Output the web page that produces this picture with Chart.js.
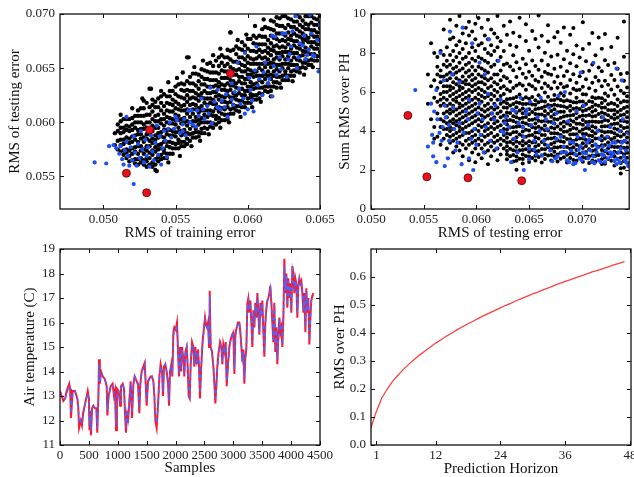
<!DOCTYPE html>
<html>
<head>
<meta charset="utf-8">
<script src="https://cdn.jsdelivr.net/npm/chart.js@4.4.1/dist/chart.umd.min.js"></script>
<style>
  html, body { margin: 0; background: #fff; }
  body { width: 634px; height: 477px; position: relative; overflow: hidden; }
  canvas { position: absolute; }
</style>
</head>
<body>
<canvas id="c1" width="340" height="245" style="left:0;top:0"></canvas>
<canvas id="c2" width="319" height="245" style="left:315px;top:0"></canvas>
<canvas id="c3" width="340" height="242" style="left:0;top:235px"></canvas>
<canvas id="c4" width="319" height="242" style="left:315px;top:235px"></canvas>
<script>
/* global Chart */
// ---- panel 1: training error vs testing error (columns: [train, [test...]]) ----
const trainTestBlack = [
  [0.0508,[0.0579,0.0590]],
  [0.0510,[0.0575,0.0583,0.0592,0.0598]],
  [0.0512,[0.0573,0.0579,0.0584,0.0590,0.0595,0.0601]],
  [0.0514,[0.0570,0.0574,0.0580,0.0584,0.0591,0.0595,0.0603]],
  [0.0516,[0.0567,0.0572,0.0575,0.0582,0.0586,0.0593,0.0597,0.0603]],
  [0.0518,[0.0564,0.0569,0.0574,0.0581,0.0585,0.0592,0.0596,0.0603]],
  [0.0520,[0.0565,0.0571,0.0576,0.0582,0.0587,0.0593,0.0598,0.0604]],
  [0.0522,[0.0562,0.0566,0.0573,0.0577,0.0584,0.0588,0.0595,0.0600,0.0606]],
  [0.0524,[0.0561,0.0566,0.0571,0.0578,0.0582,0.0589,0.0593,0.0600,0.0606,0.0611]],
  [0.0526,[0.0563,0.0567,0.0574,0.0578,0.0585,0.0589,0.0594,0.0600,0.0606,0.0613]],
  [0.0528,[0.0561,0.0565,0.0571,0.0575,0.0582,0.0586,0.0594,0.0598,0.0606,0.0613,0.0620]],
  [0.0530,[0.0559,0.0564,0.0567,0.0574,0.0578,0.0585,0.0589,0.0595,0.0600,0.0607,0.0618]],
  [0.0532,[0.0561,0.0567,0.0572,0.0578,0.0583,0.0589,0.0594,0.0600,0.0607,0.0614,0.0631]],
  [0.0534,[0.0559,0.0563,0.0570,0.0574,0.0581,0.0585,0.0592,0.0597,0.0603,0.0610,0.0616,0.0621]],
  [0.0536,[0.0556,0.0561,0.0566,0.0573,0.0577,0.0584,0.0588,0.0595,0.0601,0.0606,0.0614,0.0619]],
  [0.0538,[0.0564,0.0568,0.0575,0.0579,0.0586,0.0590,0.0595,0.0601,0.0607,0.0614,0.0622]],
  [0.0540,[0.0566,0.0570,0.0576,0.0580,0.0587,0.0591,0.0599,0.0603,0.0611,0.0618,0.0624]],
  [0.0542,[0.0567,0.0572,0.0575,0.0582,0.0586,0.0593,0.0597,0.0603,0.0608,0.0615,0.0626]],
  [0.0544,[0.0567,0.0571,0.0578,0.0582,0.0589,0.0593,0.0600,0.0605,0.0611,0.0618,0.0624]],
  [0.0546,[0.0571,0.0577,0.0582,0.0588,0.0593,0.0599,0.0604,0.0610,0.0617,0.0624,0.0629]],
  [0.0548,[0.0571,0.0576,0.0581,0.0588,0.0592,0.0599,0.0603,0.0610,0.0616,0.0621,0.0629]],
  [0.0550,[0.0576,0.0580,0.0587,0.0591,0.0598,0.0602,0.0607,0.0613,0.0619,0.0626,0.0633]],
  [0.0552,[0.0576,0.0581,0.0584,0.0591,0.0595,0.0602,0.0606,0.0612,0.0617,0.0624,0.0635]],
  [0.0554,[0.0578,0.0582,0.0588,0.0592,0.0599,0.0603,0.0611,0.0615,0.0623,0.0630,0.0636]],
  [0.0556,[0.0578,0.0582,0.0589,0.0593,0.0600,0.0604,0.0611,0.0616,0.0622,0.0629,0.0635]],
  [0.0558,[0.0580,0.0585,0.0590,0.0597,0.0601,0.0608,0.0612,0.0619,0.0625,0.0630,0.0638,0.0660]],
  [0.0560,[0.0583,0.0589,0.0594,0.0600,0.0605,0.0611,0.0616,0.0622,0.0629,0.0636,0.0642]],
  [0.0562,[0.0586,0.0590,0.0597,0.0601,0.0608,0.0612,0.0617,0.0623,0.0629,0.0636,0.0645]],
  [0.0564,[0.0586,0.0591,0.0594,0.0601,0.0605,0.0612,0.0616,0.0622,0.0627,0.0634,0.0645]],
  [0.0566,[0.0587,0.0591,0.0598,0.0602,0.0609,0.0613,0.0620,0.0625,0.0631,0.0638,0.0644]],
  [0.0568,[0.0590,0.0594,0.0600,0.0604,0.0611,0.0615,0.0623,0.0627,0.0635,0.0642,0.0649]],
  [0.0570,[0.0590,0.0595,0.0600,0.0607,0.0611,0.0618,0.0622,0.0629,0.0635,0.0640,0.0648]],
  [0.0572,[0.0594,0.0600,0.0605,0.0611,0.0616,0.0622,0.0627,0.0633,0.0640,0.0647,0.0654]],
  [0.0574,[0.0596,0.0600,0.0607,0.0611,0.0618,0.0622,0.0627,0.0633,0.0639,0.0646,0.0655]],
  [0.0576,[0.0595,0.0599,0.0606,0.0610,0.0617,0.0621,0.0628,0.0633,0.0639,0.0646,0.0652]],
  [0.0578,[0.0598,0.0603,0.0606,0.0613,0.0617,0.0624,0.0628,0.0634,0.0639,0.0646,0.0657]],
  [0.0580,[0.0600,0.0604,0.0610,0.0614,0.0621,0.0625,0.0633,0.0637,0.0645,0.0652,0.0660]],
  [0.0582,[0.0602,0.0608,0.0613,0.0619,0.0624,0.0630,0.0635,0.0641,0.0648,0.0655,0.0662]],
  [0.0584,[0.0602,0.0607,0.0612,0.0619,0.0623,0.0630,0.0634,0.0641,0.0647,0.0652,0.0660]],
  [0.0586,[0.0603,0.0607,0.0614,0.0618,0.0625,0.0629,0.0636,0.0641,0.0647,0.0654,0.0660,0.0667]],
  [0.0588,[0.0608,0.0612,0.0619,0.0623,0.0630,0.0634,0.0639,0.0645,0.0651,0.0658,0.0666,0.0683]],
  [0.0590,[0.0608,0.0613,0.0616,0.0623,0.0627,0.0634,0.0638,0.0644,0.0649,0.0656,0.0667]],
  [0.0592,[0.0611,0.0615,0.0621,0.0625,0.0632,0.0636,0.0644,0.0648,0.0656,0.0663,0.0670]],
  [0.0594,[0.0610,0.0615,0.0620,0.0627,0.0631,0.0638,0.0642,0.0649,0.0655,0.0660,0.0668]],
  [0.0596,[0.0614,0.0620,0.0625,0.0631,0.0636,0.0642,0.0647,0.0653,0.0660,0.0667,0.0674]],
  [0.0598,[0.0614,0.0618,0.0625,0.0629,0.0636,0.0640,0.0647,0.0652,0.0658,0.0665,0.0671]],
  [0.0600,[0.0618,0.0622,0.0629,0.0633,0.0640,0.0644,0.0649,0.0655,0.0661,0.0668,0.0677]],
  [0.0602,[0.0618,0.0623,0.0626,0.0633,0.0637,0.0644,0.0648,0.0654,0.0659,0.0666,0.0677]],
  [0.0604,[0.0621,0.0625,0.0631,0.0635,0.0642,0.0646,0.0654,0.0658,0.0666,0.0673,0.0680]],
  [0.0606,[0.0621,0.0625,0.0632,0.0636,0.0643,0.0647,0.0654,0.0659,0.0665,0.0672,0.0678]],
  [0.0608,[0.0622,0.0627,0.0632,0.0639,0.0643,0.0650,0.0654,0.0661,0.0667,0.0672,0.0680]],
  [0.0610,[0.0626,0.0632,0.0637,0.0643,0.0648,0.0654,0.0659,0.0665,0.0672,0.0679,0.0686]],
  [0.0612,[0.0629,0.0633,0.0640,0.0644,0.0651,0.0655,0.0660,0.0666,0.0672,0.0679,0.0688]],
  [0.0614,[0.0628,0.0633,0.0636,0.0643,0.0647,0.0654,0.0658,0.0664,0.0669,0.0676,0.0687]],
  [0.0616,[0.0629,0.0633,0.0640,0.0644,0.0651,0.0655,0.0662,0.0667,0.0673,0.0680,0.0686,0.0694]],
  [0.0618,[0.0633,0.0637,0.0643,0.0647,0.0654,0.0658,0.0666,0.0670,0.0678,0.0685,0.0693]],
  [0.0620,[0.0632,0.0637,0.0642,0.0649,0.0653,0.0660,0.0664,0.0671,0.0677,0.0682,0.0690,0.0697]],
  [0.0622,[0.0636,0.0642,0.0647,0.0653,0.0658,0.0664,0.0669,0.0675,0.0682,0.0689,0.0696]],
  [0.0624,[0.0639,0.0643,0.0650,0.0654,0.0661,0.0665,0.0670,0.0676,0.0682,0.0689,0.0698]],
  [0.0626,[0.0639,0.0644,0.0647,0.0654,0.0658,0.0665,0.0669,0.0675,0.0680,0.0687,0.0698]],
  [0.0628,[0.0639,0.0643,0.0650,0.0654,0.0661,0.0665,0.0672,0.0677,0.0683,0.0690,0.0696]],
  [0.0630,[0.0643,0.0647,0.0653,0.0657,0.0664,0.0668,0.0676,0.0680,0.0688,0.0695]],
  [0.0632,[0.0643,0.0648,0.0653,0.0660,0.0664,0.0671,0.0675,0.0682,0.0688,0.0693]],
  [0.0634,[0.0647,0.0653,0.0658,0.0664,0.0669,0.0675,0.0680,0.0686,0.0693,0.0700]],
  [0.0636,[0.0646,0.0650,0.0657,0.0661,0.0668,0.0672,0.0679,0.0684,0.0690,0.0697]],
  [0.0638,[0.0651,0.0655,0.0662,0.0666,0.0673,0.0677,0.0682,0.0688,0.0694]],
  [0.0640,[0.0650,0.0655,0.0658,0.0665,0.0669,0.0676,0.0680,0.0686,0.0691,0.0698]],
  [0.0642,[0.0653,0.0657,0.0663,0.0667,0.0674,0.0678,0.0686,0.0690,0.0698]],
  [0.0644,[0.0653,0.0658,0.0663,0.0670,0.0674,0.0681,0.0685,0.0692,0.0698]],
  [0.0646,[0.0657,0.0663,0.0668,0.0674,0.0679,0.0685,0.0690,0.0696]],
  [0.0648,[0.0657,0.0661,0.0668,0.0672,0.0679,0.0683,0.0690,0.0695]],
  [0.0650,[0.0661,0.0665,0.0672,0.0676,0.0683,0.0687,0.0692,0.0698]]
];
// scattered black runs lying outside the dense band
const trainTestBlackLoose = [
  [0.0512,0.0607],[0.0520,0.0613],[0.0527,0.0622],[0.0533,0.0631],[0.0540,0.0629],[0.0545,0.0637],
  [0.0551,0.0641],[0.0555,0.0646],[0.0559,0.0660],[0.0563,0.0651],[0.0569,0.0657],[0.0576,0.0662],
  [0.0581,0.0668],[0.0588,0.0683],[0.0593,0.0676],[0.0599,0.0681],[0.0605,0.0689],[0.0611,0.0695],
  [0.0537,0.0555],[0.0545,0.0563],[0.0553,0.0569],[0.0561,0.0578],[0.0567,0.0583],[0.0573,0.0589],
  [0.0581,0.0595],[0.0587,0.0600],[0.0595,0.0605],[0.0603,0.0614],[0.0609,0.0619],[0.0616,0.0624],
  [0.0623,0.0632],[0.0631,0.0638],[0.0639,0.0644],[0.0645,0.0651]
];
const trainTestBlue = [
  [0.0494,0.0563],[0.0502,0.0562],[0.0504,0.0578],[0.0507,0.0579],[0.0509,0.0576],[0.0511,0.0571],
  [0.0512,0.0578],[0.0513,0.0566],[0.0514,0.0561],[0.0515,0.0574],[0.0516,0.0605],[0.0516,0.0582],
  [0.0517,0.0569],[0.0518,0.0560],[0.0519,0.0577],[0.0520,0.0565],[0.0521,0.0543],[0.0521,0.0587],
  [0.0522,0.0572],[0.0523,0.0560],[0.0524,0.0580],[0.0525,0.0567],[0.0526,0.0592],[0.0527,0.0575],
  [0.0528,0.0563],[0.0529,0.0584],[0.0530,0.0569],[0.0531,0.0577],[0.0532,0.0559],[0.0533,0.0588],
  [0.0534,0.0573],[0.0535,0.0565],[0.0536,0.0581],[0.0537,0.0597],[0.0538,0.0570],[0.0539,0.0587],
  [0.0540,0.0561],[0.0541,0.0576],[0.0542,0.0592],[0.0543,0.0583],[0.0544,0.0568],[0.0545,0.0594],
  [0.0546,0.0600],[0.0547,0.0586],[0.0549,0.0594],[0.0550,0.0605],[0.0551,0.0602],[0.0553,0.0590],
  [0.0555,0.0598],[0.0556,0.0603],[0.0557,0.0588],[0.0559,0.0611],[0.0561,0.0611],[0.0562,0.0598],
  [0.0565,0.0611],[0.0566,0.0606],[0.0568,0.0622],[0.0570,0.0603],[0.0572,0.0615],[0.0574,0.0632],
  [0.0575,0.0599],[0.0579,0.0630],[0.0579,0.0614],[0.0582,0.0620],[0.0584,0.0614],[0.0586,0.0605],
  [0.0589,0.0621],[0.0589,0.0636],[0.0591,0.0628],[0.0593,0.0655],[0.0595,0.0617],[0.0598,0.0608],
  [0.0598,0.0664],[0.0600,0.0612],[0.0602,0.0630],[0.0604,0.0610],[0.0605,0.0648],[0.0606,0.0670],
  [0.0608,0.0640],[0.0610,0.0625],[0.0612,0.0655],[0.0614,0.0636],[0.0617,0.0624],[0.0617,0.0680],
  [0.0619,0.0679],[0.0620,0.0644],[0.0622,0.0660],[0.0624,0.0682],[0.0626,0.0682],[0.0627,0.0642],
  [0.0628,0.0658],[0.0630,0.0670],[0.0631,0.0684],[0.0633,0.0698],[0.0634,0.0650],[0.0636,0.0673],
  [0.0638,0.0671],[0.0640,0.0658],[0.0641,0.0662],[0.0643,0.0699],[0.0644,0.0682],[0.0645,0.0662],
  [0.0646,0.0661],[0.0648,0.0676],[0.0649,0.0647],[0.0650,0.0690],
  [0.0555,0.0592],[0.0560,0.0600],[0.0564,0.0596],[0.0569,0.0612],[0.0573,0.0608],[0.0577,0.0619],
  [0.0581,0.0612],[0.0585,0.0626],[0.0590,0.0616],[0.0594,0.0631],[0.0597,0.0622],[0.0601,0.0641],
  [0.0603,0.0620],[0.0607,0.0634],[0.0611,0.0646],[0.0615,0.0640],[0.0618,0.0652],[0.0623,0.0649],
  [0.0629,0.0663],[0.0635,0.0660],[0.0639,0.0680],[0.0642,0.0667]
];
const trainTestRed = [[0.0516,0.0553],[0.0530,0.0535],[0.0532,0.0593],[0.0588,0.0645]];
const trainTicks = [0.050, 0.055, 0.060, 0.065];
const testTicks1 = [0.055, 0.060, 0.065, 0.070];

// ---- panel 2: testing error vs sum RMS over PH (columns: [test, [sum...]]) ----
const testSumBlack = [
  [0.0554,[5.4,6.9]],
  [0.0557,[4.6,6.3,8.5]],
  [0.0560,[3.6,4.2,5.7,6.6,8.0]],
  [0.0563,[3.7,4.9,5.5,6.2,6.9,7.3,7.8]],
  [0.0566,[3.3,4.2,4.6,5.3,5.6,5.9,6.5,6.8,7.1,8.1]],
  [0.0569,[3.6,4.1,4.5,4.9,5.4,5.7,6.0,6.3,6.8,7.4,7.9,9.2]],
  [0.0572,[3.1,3.8,4.1,4.4,4.7,5.0,5.3,5.6,6.0,6.3,6.6,6.9,7.3,7.6,8.3]],
  [0.0575,[3.4,3.7,4.0,4.2,4.5,4.9,5.1,5.4,5.8,6.1,6.3,6.7,7.0,7.4,7.9,8.7,9.7]],
  [0.0578,[2.9,3.5,3.8,4.1,4.4,4.6,5.0,5.3,5.6,5.9,6.2,6.5,6.9,7.2,7.6,8.1,8.8]],
  [0.0581,[3.2,3.6,3.9,4.3,4.5,4.8,5.1,5.5,5.7,6.0,6.4,6.7,7.0,7.3,7.8,8.4,9.4]],
  [0.0584,[3.0,3.4,3.7,4.0,4.2,4.6,4.9,5.2,5.4,5.8,6.1,6.3,6.6,7.1,7.5,8.0,8.6,9.9]],
  [0.0587,[2.7,3.3,3.8,4.1,4.4,4.7,5.0,5.3,5.6,5.9,6.2,6.5,6.8,7.2,7.7,8.2,9.0]],
  [0.0590,[3.1,3.5,3.9,4.2,4.5,4.8,5.1,5.4,5.7,6.0,6.4,6.6,7.0,7.4,7.8,8.5,9.3]],
  [0.0593,[2.5,3.3,3.6,3.9,4.3,4.6,4.9,5.2,5.5,5.8,6.1,6.4,6.8,7.1,7.5,8.0,8.9,9.6]],
  [0.0596,[2.9,3.4,3.7,4.0,4.4,4.7,5.0,5.3,5.6,6.0,6.3,6.6,6.9,7.3,7.7,8.3,9.1]],
  [0.0599,[2.4,3.1,3.5,3.8,4.1,4.5,4.8,5.1,5.4,5.7,6.1,6.4,6.7,7.1,7.6,8.1,8.7,9.5]],
  [0.0602,[2.8,3.3,3.6,4.0,4.3,4.6,4.9,5.2,5.6,5.9,6.2,6.5,6.9,7.3,7.8,8.4,9.8]],
  [0.0605,[2.6,3.1,3.5,3.8,4.2,4.5,4.8,5.1,5.5,5.8,6.1,6.5,6.8,7.2,7.7,8.5,9.3]],
  [0.0608,[2.9,3.3,3.7,4.0,4.3,4.7,5.0,5.3,5.7,6.0,6.4,6.7,7.1,7.6,8.2,8.9]],
  [0.0611,[2.3,3.0,3.4,3.8,4.1,4.4,4.8,5.1,5.4,5.8,6.2,6.6,7.0,7.5,8.0,8.7,9.7]],
  [0.0614,[2.7,3.2,3.5,3.9,4.2,4.6,4.9,5.2,5.6,5.9,6.3,6.7,7.3,7.9,8.4,9.2]],
  [0.0617,[3.0,3.4,3.7,4.1,4.4,4.7,5.1,5.4,5.8,6.1,6.5,6.9,7.4,8.1,9.0]],
  [0.0620,[2.5,3.1,3.5,3.8,4.2,4.5,4.9,5.2,5.6,6.0,6.4,6.9,7.6,8.3,8.8,9.9]],
  [0.0623,[2.8,3.3,3.6,4.0,4.3,4.7,5.0,5.4,5.8,6.2,6.6,7.1,7.8,8.6]],
  [0.0626,[3.1,3.5,3.8,4.1,4.5,4.8,5.2,5.5,5.9,6.3,6.8,7.4,8.1,9.4]],
  [0.0629,[2.55,2.79,2.98,3.22,3.41,3.66,3.87,4.08,4.33,4.52,4.76,4.95,5.19,5.42,5.63,6.14,6.71,7.46,8.93]],
  [0.0632,[2.71,3.09,3.44,3.83,4.18,4.57,4.92,5.31,5.66,6.05,6.52,7.31,8.41,9.62]],
  [0.0635,[2.44,2.77,3.01,3.34,3.58,3.93,4.19,4.51,4.76,5.08,5.39,5.68,6.21,7.12,7.88,9.04]],
  [0.0638,[2.01,2.47,2.69,2.96,3.19,3.46,3.68,3.95,4.22,4.44,4.71,4.93,5.22,5.47,5.74,6.33,6.77,7.53,8.32]],
  [0.0641,[2.58,3.01,3.39,3.82,4.24,4.63,5.05,5.44,5.87,6.42,7.21,8.84,9.81]],
  [0.0644,[2.33,2.56,2.79,3.02,3.26,3.49,3.73,3.97,4.21,4.44,4.68,4.91,5.15,5.39,5.64,6.33,6.94,7.71]],
  [0.0647,[2.72,3.06,3.37,3.71,4.06,4.38,4.72,5.03,5.38,5.73,6.11,6.73,7.42,8.62,9.48]],
  [0.0650,[2.41,2.69,2.94,3.23,3.48,3.77,4.02,4.31,4.57,4.86,5.12,5.41,5.66,6.39,7.04,8.11]],
  [0.0653,[2.62,3.03,3.41,3.79,4.19,4.58,4.97,5.36,5.74,6.29,6.83,7.62,9.13]],
  [0.0656,[2.49,2.73,2.96,3.21,3.44,3.68,3.92,4.16,4.39,4.63,4.87,5.11,5.35,5.58,6.16,6.61,7.33,8.72]],
  [0.0659,[2.67,2.98,3.28,3.61,3.92,4.22,4.53,4.84,5.16,5.47,5.83,6.52,7.14,8.28,9.92]],
  [0.0662,[2.38,2.74,3.08,3.44,3.79,4.13,4.49,4.84,5.18,5.54,6.21,6.78,7.61,8.88]],
  [0.0665,[2.57,2.81,3.06,3.31,3.55,3.79,4.04,4.28,4.53,4.77,5.02,5.26,5.51,5.98,6.43,7.03,8.01]],
  [0.0668,[2.74,3.17,3.61,4.03,4.47,4.89,5.33,5.76,6.31,6.93,7.38,8.59,9.42]],
  [0.0671,[2.49,2.77,3.06,3.33,3.62,3.89,4.18,4.46,4.73,5.02,5.29,5.58,6.18,6.88,7.82]],
  [0.0674,[2.69,2.93,3.17,3.41,3.66,3.89,4.13,4.38,4.62,4.86,5.11,5.35,5.59,5.84,6.51,7.19,8.81]],
  [0.0677,[2.43,2.79,3.16,3.51,3.87,4.23,4.59,4.96,5.31,5.67,6.22,6.79,7.91,9.08]],
  [0.0680,[2.58,2.88,3.19,3.48,3.79,4.08,4.39,4.68,4.99,5.28,5.59,5.94,6.42,7.29,8.53]],
  [0.0683,[2.66,2.92,3.18,3.44,3.69,3.96,4.22,4.47,4.74,4.99,5.26,5.52,5.81,6.24,6.82,7.68,9.31]],
  [0.0686,[2.38,2.78,3.18,3.59,3.98,4.38,4.78,5.19,5.58,6.31,7.07,8.12]],
  [0.0689,[2.61,2.85,3.09,3.34,3.58,3.82,4.07,4.31,4.55,4.79,5.04,5.28,5.53,5.92,6.61,7.47,8.93]],
  [0.0692,[2.51,2.84,3.17,3.49,3.83,4.16,4.49,4.82,5.14,5.48,6.17,6.91,7.94,9.28]],
  [0.0695,[2.48,2.76,3.02,3.29,3.57,3.83,4.11,4.37,4.64,4.92,5.18,5.46,5.71,6.09,6.48,7.32,8.38]],
  [0.0698,[2.84,3.22,3.61,3.98,4.37,4.74,5.13,5.51,6.12,6.81,7.77]],
  [0.0701,[2.42,2.66,2.89,3.13,3.37,3.61,3.84,4.08,4.32,4.56,4.79,5.03,5.27,5.51,5.88,6.27,7.02,8.21,9.58]],
  [0.0704,[2.61,2.92,3.23,3.54,3.84,4.16,4.46,4.78,5.08,5.39,5.87,6.66,7.58]],
  [0.0707,[2.36,2.71,3.07,3.41,3.77,4.11,4.47,4.82,5.16,5.52,6.19,7.09,8.47]],
  [0.0710,[2.49,2.74,2.99,3.24,3.49,3.74,3.99,4.24,4.49,4.74,4.99,5.24,5.49,5.73,6.47,7.41,9.02]],
  [0.0713,[2.44,2.73,3.02,3.31,3.61,3.89,4.18,4.47,4.77,5.06,5.35,5.68,6.07,6.77,7.88]],
  [0.0716,[2.77,3.19,3.61,4.03,4.46,4.87,5.29,5.71,6.58,7.26,8.79]],
  [0.0719,[2.31,2.55,2.79,3.03,3.27,3.51,3.75,3.99,4.23,4.47,4.71,4.95,5.19,5.43,5.68,6.29,7.07,8.22]],
  [0.0722,[2.32,2.64,2.96,3.28,3.61,3.93,4.25,4.57,4.89,5.21,5.57,5.92,6.58,7.63,8.97]],
  [0.0725,[2.56,2.84,3.12,3.41,3.68,3.96,4.24,4.53,4.81,5.08,5.37,5.79,6.37,7.38]],
  [0.0728,[2.47,2.84,3.21,3.58,3.95,4.33,4.69,5.07,5.44,6.13,6.87,8.31]],
  [0.0731,[2.23,2.47,2.71,2.94,3.18,3.42,3.66,3.89,4.13,4.37,4.61,4.84,5.08,5.38,5.86,6.62,7.49]],
  [0.0734,[2.58,2.88,3.18,3.48,3.78,4.08,4.38,4.69,4.98,5.28,5.62,6.28,7.19,8.78]],
  [0.0737,[1.82,2.09,2.36,2.63,2.91,3.18,3.44,3.72,3.99,4.26,4.53,4.81,5.08,5.46,6.07,6.92]],
  [0.0740,[2.12,2.46,2.81,3.14,3.48,3.82,4.16,4.51,4.84,5.18,5.54,5.93,6.58,7.81,9.62]],
  [0.0743,[2.37,2.63,2.89,3.16,3.41,3.67,3.93,4.19,4.46,4.71,4.97,5.24,5.51,5.78,6.23,6.97]]
];
const testSumBlue = [
  [0.0542,6.1],[0.0554,3.2],[0.0557,5.4],[0.0558,3.8],[0.0559,3.4],[0.0559,2.7],[0.0560,5.0],[0.0562,6.1],
  [0.0562,2.4],[0.0563,4.6],[0.0565,3.9],[0.0566,8.0],[0.0567,3.5],[0.0568,4.2],[0.0569,6.6],[0.0570,2.2],
  [0.0570,5.3],[0.0571,4.7],[0.0573,2.6],[0.0574,3.5],[0.0574,4.3],[0.0575,9.1],[0.0577,6.9],[0.0578,5.2],
  [0.0579,4.1],[0.0580,3.0],[0.0582,3.4],[0.0584,4.4],[0.0584,6.5],[0.0586,2.3],[0.0587,9.3],[0.0588,3.9],
  [0.0590,5.0],[0.0592,4.6],[0.0593,2.6],[0.0593,5.6],[0.0595,3.6],[0.0596,8.5],[0.0597,2.0],[0.0598,4.1],
  [0.0600,3.3],[0.0601,4.9],[0.0603,5.4],[0.0603,7.5],[0.0604,3.8],[0.0606,4.6],[0.0607,2.9],[0.0608,6.9],
  [0.0609,4.2],[0.0611,5.9],[0.0612,8.7],[0.0613,3.5],[0.0615,4.9],[0.0617,4.6],[0.0619,3.1],[0.0621,7.6],
  [0.0623,5.6],[0.0624,4.0],[0.0626,3.9],[0.0628,4.7],[0.0631,4.2],[0.0633,2.4],[0.0634,5.1],[0.0636,3.6],
  [0.0639,2.9],[0.0640,4.4],[0.0642,5.7],[0.0645,3.7],[0.0645,2.0],[0.0647,4.9],[0.0648,5.1],[0.0650,3.1],
  [0.0652,4.3],[0.0655,3.5],[0.0657,2.8],[0.0660,4.0],[0.0661,5.7],[0.0664,3.5],[0.0666,4.6],[0.0667,4.1],
  [0.0670,3.0],[0.0673,4.4],[0.0675,2.6],[0.0677,2.7],[0.0678,5.8],[0.0680,3.7],[0.0681,2.9],[0.0683,3.2],
  [0.0684,6.0],[0.0686,2.5],[0.0688,2.4],[0.0690,3.0],[0.0692,3.4],[0.0692,2.3],[0.0694,2.8],[0.0696,3.7],
  [0.0698,2.6],[0.0699,3.2],[0.0699,7.0],[0.0701,2.9],[0.0702,3.7],[0.0702,5.3],[0.0703,2.0],[0.0705,3.4],
  [0.0706,2.6],[0.0708,3.0],[0.0710,2.4],[0.0711,7.5],[0.0711,2.7],[0.0713,3.3],[0.0714,2.9],[0.0716,2.5],
  [0.0717,3.6],[0.0719,2.8],[0.0720,3.2],[0.0720,4.7],[0.0722,2.4],[0.0723,3.0],[0.0724,3.7],[0.0725,2.6],
  [0.0727,2.9],[0.0728,2.7],[0.0729,3.4],[0.0731,2.5],[0.0732,3.4],[0.0733,2.3],[0.0733,7.2],[0.0735,2.9],
  [0.0736,2.4],[0.0737,3.1],[0.0738,6.6],[0.0739,4.6],[0.0740,2.7],[0.0741,2.5],[0.0741,3.5],[0.0742,3.0],
  [0.0744,2.2],[0.0744,3.9],
  [0.0650,2.55],[0.0655,3.05],[0.0662,2.75],[0.0668,3.25],[0.0672,2.45],[0.0676,3.6],[0.0685,2.9],
  [0.0689,3.45],[0.0694,2.35],[0.0697,3.05],[0.0700,2.5],[0.0704,2.85],[0.0707,3.55],[0.0712,2.35],
  [0.0715,3.15],[0.0718,2.4],[0.0721,2.75],[0.0726,3.25],[0.0730,2.85],[0.0734,2.55],[0.0738,3.4],
  [0.0742,2.4],[0.0618,5.3],[0.0627,4.4],[0.0637,5.0],[0.0644,4.2],[0.0651,5.5],[0.0658,4.7],
  [0.0669,5.2],[0.0676,4.9],[0.0687,4.5],[0.0695,5.0],[0.0706,4.3],[0.0715,4.0],[0.0727,4.2],[0.0736,4.0]
];
const testSumRed = [[0.0535,4.8],[0.0553,1.65],[0.0592,1.6],[0.0643,1.45]];
const testTicks2 = [0.050, 0.055, 0.060, 0.065, 0.070];
const sumTicks = [0, 2, 4, 6, 8, 10];

// ---- panel 3: air temperature, measured (red) and predicted (blue dashed) ----
const sampleIdx = [
  0,30,58,90,115,160,175,190,220,260,
  300,315,330,360,380,400,445,480,500,510,
  525,535,555,577,605,630,645,665,675,690,
  710,740,775,808,820,840,877,910,935,952,
  970,985,1015,1040,1055,1085,1108,1125,1142,1160,
  1177,1200,1223,1246,1270,1292,1327,1350,1373,1390,
  1414,1443,1466,1483,1500,1523,1546,1570,1592,1616,
  1633,1650,1673,1696,1720,1742,1766,1783,1800,1823,
  1846,1870,1887,1904,1927,1944,1962,1979,2002,2025,
  2043,2060,2077,2094,2112,2135,2152,2170,2193,2210,
  2227,2245,2262,2285,2308,2325,2343,2366,2389,2406,
  2423,2446,2470,2493,2510,2527,2545,2562,2580,2591,
  2608,2631,2654,2672,2689,2706,2723,2746,2770,2793,
  2810,2827,2850,2868,2885,2908,2931,2954,2977,3000,
  3018,3035,3058,3081,3104,3122,3139,3156,3174,3191,
  3208,3225,3243,3260,3277,3295,3312,3329,3347,3364,
  3381,3399,3416,3433,3451,3468,3485,3502,3520,3537,
  3554,3572,3589,3606,3624,3641,3658,3675,3693,3710,
  3727,3745,3762,3779,3797,3814,3831,3849,3866,3883,
  3900,3918,3935,3952,3970,3987,4004,4022,4039,4056,
  4074,4091,4108,4125,4143,4160,4177,4195,4212,4229,
  4247,4264,4281,4298,4316,4333,4350,4368,4385
];
const airTemp = [
  13.2,13.0,12.8,12.9,13.2,13.5,13.3,12.1,13.2,13.2,
  12.9,12.6,11.7,12.0,11.8,12.3,12.8,13.2,12.9,11.6,
  12.4,11.4,12.5,12.6,12.5,12.5,11.5,13.0,14.5,13.5,
  14.0,13.8,13.7,13.4,12.2,13.0,13.4,13.5,13.0,13.2,
  11.6,13.3,13.2,12.6,13.4,13.5,13.3,12.3,11.5,12.4,
  11.9,12.8,13.6,12.1,13.5,13.8,13.6,13.5,12.3,13.5,
  14.0,14.2,14.35,13.5,12.6,13.6,13.7,13.8,13.8,13.6,
  13.0,12.0,11.7,12.6,13.8,14.3,14.0,13.0,14.2,14.3,
  14.0,13.5,12.6,14.0,14.3,13.8,15.6,15.8,15.7,16.0,
  14.8,13.8,15.0,14.0,15.0,14.5,13.8,14.8,15.0,14.2,
  13.0,12.9,14.3,15.2,15.0,14.2,15.0,14.3,14.9,14.2,
  12.9,14.3,15.3,15.8,16.2,15.9,15.8,16.0,15.0,17.3,
  15.0,14.8,14.2,13.5,12.7,13.4,14.2,14.8,15.2,15.0,
  14.3,15.1,14.8,15.2,13.4,14.3,15.0,15.3,15.5,15.6,
  13.9,15.5,15.8,16.0,16.0,15.6,15.0,14.4,14.9,13.5,
  14.6,14.9,16.8,17.0,16.4,16.9,16.0,15.0,16.5,15.8,
  16.8,16.2,17.2,16.4,15.5,16.8,16.3,16.9,15.6,14.6,
  16.0,16.6,16.9,17.0,17.2,17.5,16.8,16.0,15.2,16.8,
  14.8,15.8,14.3,15.5,16.2,15.6,15.8,15.0,16.2,18.6,
  17.2,18.0,16.6,17.8,17.0,17.6,16.4,18.3,18.0,17.2,
  17.8,17.6,16.2,17.5,17.8,17.6,17.7,17.2,16.4,17.2,
  15.6,17.4,16.4,17.0,15.1,16.2,16.9,17.1,17.2
];
const predTemp = [
  13.1,13.0,12.9,12.9,13.1,13.4,13.3,12.3,13.1,13.2,
  12.9,12.7,11.9,12.0,11.9,12.2,12.8,13.1,12.9,11.8,
  12.3,11.6,12.4,12.6,12.5,12.4,11.7,12.9,14.3,13.6,
  13.9,13.8,13.7,13.4,12.4,12.9,13.4,13.4,13.1,13.1,
  11.8,13.2,13.2,12.7,13.3,13.5,13.3,12.4,11.7,12.3,
  12.0,12.8,13.5,12.3,13.4,13.8,13.6,13.4,12.5,13.4,
  14.0,14.1,14.3,13.6,12.8,13.5,13.7,13.7,13.8,13.6,
  13.1,12.2,11.9,12.5,13.7,14.2,14.0,13.2,14.1,14.3,
  14.0,13.6,12.8,13.9,14.2,13.9,15.4,15.7,15.7,15.9,
  14.9,13.9,14.9,14.1,14.9,14.5,13.9,14.7,15.0,14.3,
  13.2,13.0,14.2,15.1,15.0,14.3,14.9,14.4,14.8,14.3,
  13.1,14.2,15.2,15.7,16.1,15.9,15.8,15.9,15.1,17.1,
  15.1,14.8,14.3,13.6,12.9,13.3,14.1,14.7,15.1,15.0,
  14.4,15.0,14.8,15.1,13.6,14.2,14.9,15.3,15.5,15.6,
  14.1,15.4,15.8,15.9,16.0,15.6,15.1,14.5,14.8,13.7,
  14.5,14.9,16.6,16.9,16.5,16.8,16.1,15.2,16.4,15.9,
  16.7,16.3,17.1,16.5,15.6,16.7,16.4,16.8,15.7,14.8,
  15.9,16.5,16.9,17.0,17.1,17.4,16.9,16.1,15.3,16.7,
  15.0,15.7,14.5,15.4,16.1,15.7,15.8,15.1,16.1,18.3,
  17.3,17.9,16.7,17.7,17.1,17.5,16.5,18.2,18.0,17.3,
  17.7,17.6,16.4,17.4,17.8,17.6,17.6,17.3,16.5,17.1,
  15.8,17.3,16.5,16.9,15.3,16.1,16.9,17.0,17.1
];
const sampleTicks = [0,500,1000,1500,2000,2500,3000,3500,4000,4500];
const tempTicks = [11,12,13,14,15,16,17,18,19];

// ---- panel 4: RMS over prediction horizon ----
const phRms = [
  0.062,0.120,0.168,0.200,0.227,0.249,0.270,0.288,0.305,0.321,0.336,0.350,
  0.364,0.376,0.389,0.400,0.412,0.423,0.433,0.443,0.453,0.463,0.472,0.481,
  0.490,0.499,0.507,0.516,0.524,0.532,0.540,0.547,0.555,0.562,0.570,0.577,
  0.584,0.591,0.598,0.604,0.611,0.618,0.624,0.630,0.636,0.643,0.649,0.655
];
const phTicks = [1, 12, 24, 36, 48];
const rmsTicks = [0.0, 0.1, 0.2, 0.3, 0.4, 0.5, 0.6];

// ---------------------------------------------------------------
const SERIF = "'Liberation Serif', 'Times New Roman', serif";
const BLACK = '#000000';
const BLUE = '#1f4ff2';
const RED = '#e8101c';

// matplotlib-like frame with inward ticks on all four sides
const frameTicks = {
  id: 'frameTicks',
  afterDatasetsDraw(chart) {
    const { ctx, chartArea: a, scales } = chart;
    ctx.save();
    ctx.strokeStyle = '#111';
    ctx.lineWidth = 1;
    ctx.beginPath();
    scales.x.ticks.forEach(t => {
      const px = Math.round(scales.x.getPixelForValue(t.value)) + 0.5;
      ctx.moveTo(px, a.bottom); ctx.lineTo(px, a.bottom - 4);
      ctx.moveTo(px, a.top); ctx.lineTo(px, a.top + 4);
    });
    scales.y.ticks.forEach(t => {
      const py = Math.round(scales.y.getPixelForValue(t.value)) + 0.5;
      ctx.moveTo(a.left, py); ctx.lineTo(a.left + 4, py);
      ctx.moveTo(a.right, py); ctx.lineTo(a.right - 4, py);
    });
    ctx.stroke();
    ctx.lineWidth = 1.3;
    ctx.strokeRect(a.left, a.top, a.right - a.left, a.bottom - a.top);
    ctx.restore();
  }
};

function axis(min, max, ticks, fmt, title, titlePad, size) {
  return {
    type: 'linear', min, max,
    afterBuildTicks: s => { s.ticks = ticks.map(v => ({ value: v })); },
    afterFit: s => {
      if (s.isHorizontal()) s.height = size; else s.width = size;
      s.paddingLeft = 0; s.paddingRight = 0; s.paddingTop = 0; s.paddingBottom = 0;
    },
    grid: { display: false, drawTicks: false },
    border: { display: false },
    ticks: {
      autoSkip: false, maxRotation: 0, padding: 5,
      color: '#222', font: { family: SERIF, size: 13 },
      callback: v => fmt(v)
    },
    title: {
      display: true, text: title, color: '#111',
      font: { family: SERIF, size: 15, lineHeight: 1 },
      padding: titlePad
    }
  };
}

function makeChart(id, datasets, xAxis, yAxis, pad) {
  xAxis.ticks.padding = 3;
  return new Chart(document.getElementById(id), {
    type: 'scatter',
    data: { datasets },
    options: {
      responsive: false,
      animation: false,
      events: [],
      layout: { padding: pad },
      plugins: { legend: { display: false }, tooltip: { enabled: false } },
      scales: { x: xAxis, y: yAxis }
    },
    plugins: [frameTicks]
  });
}

const cols = list => list.flatMap(([x, ys]) => ys.map(y => ({ x, y })));
const pairs = list => list.map(([x, y]) => ({ x, y }));
const dots = (data, color, r, order) => ({
  data, order, clip: 0,
  pointRadius: r, pointBackgroundColor: color, pointBorderWidth: 0, pointBorderColor: color
});
const redDots = (data) => ({
  data, order: 0, clip: 0,
  pointRadius: 4, pointBackgroundColor: RED, pointBorderWidth: 0.8, pointBorderColor: '#5a0000'
});

makeChart('c1', [
  redDots(pairs(trainTestRed)),
  dots(pairs(trainTestBlue), BLUE, 2.1, 1),
  dots(cols(trainTestBlack).concat(pairs(trainTestBlackLoose)), BLACK, 2.2, 2)
],
  axis(0.047, 0.065, trainTicks, v => v.toFixed(3), 'RMS of training error', { top: 0, bottom: 4.5 }, 36),
  axis(0.052, 0.070, testTicks1, v => v.toFixed(3), 'RMS of testing error', { top: 7.5, bottom: 0 }, 60),
  { top: 14, right: 20, left: 0, bottom: 0 });

makeChart('c2', [
  redDots(pairs(testSumRed)),
  dots(pairs(testSumBlue), BLUE, 2.1, 1),
  dots(cols(testSumBlack), BLACK, 2.0, 2)
],
  axis(0.050, 0.0745, testTicks2, v => v.toFixed(3), 'RMS of testing error', { top: 0, bottom: 4.5 }, 36),
  axis(0, 10, sumTicks, v => String(v), 'Sum RMS over PH', { top: 22.5, bottom: 0 }, 56),
  { top: 14, right: 3, left: 0, bottom: 0 });

makeChart('c3', [
  {
    type: 'line', order: 0, clip: 0,
    data: sampleIdx.map((s, i) => ({ x: s, y: predTemp[i] })),
    borderColor: '#4a68ff', borderWidth: 1.4, borderDash: [4, 3], pointRadius: 0, tension: 0
  },
  {
    type: 'line', order: 1, clip: 0,
    data: sampleIdx.map((s, i) => ({ x: s, y: airTemp[i] })),
    borderColor: 'rgba(250,0,30,0.9)', borderWidth: 2, pointRadius: 0, tension: 0
  }
],
  axis(0, 4500, sampleTicks, v => String(v), 'Samples', { top: 0, bottom: 1.5 }, 32),
  axis(11, 19, tempTicks, v => String(v), 'Air temperature (C)', { top: 22.5, bottom: 0 }, 60),
  { top: 14, right: 20, left: 0, bottom: 0 });

makeChart('c4', [
  {
    type: 'line', order: 0, clip: 0,
    data: phRms.map((v, i) => ({ x: i, y: v })),
    borderColor: 'rgba(255,30,30,0.85)', borderWidth: 1.3, pointRadius: 0, tension: 0
  }
],
  axis(0, 48.2, phTicks, v => String(v), 'Prediction Horizon', { top: 0, bottom: 0 }, 32),
  axis(0, 0.7, rmsTicks, v => v.toFixed(1), 'RMS over PH', { top: 17.5, bottom: 0 }, 56),
  { top: 14, right: 3, left: 0, bottom: 0 });
</script>
</body>
</html>
